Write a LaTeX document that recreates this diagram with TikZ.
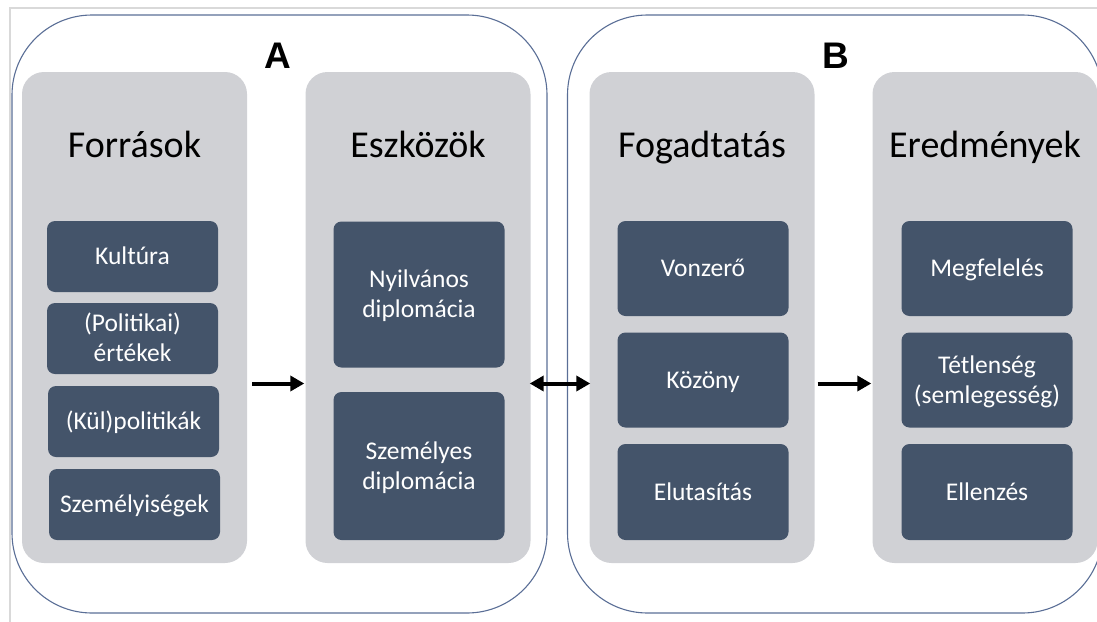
\documentclass[tikz,border=0pt]{standalone}
\usepackage{fontspec}
\setmainfont{Carlito}
\newfontfamily\headfont{Liberation Sans}
\usetikzlibrary{arrows.meta}
\definecolor{boxblue}{HTML}{44546A}
\definecolor{colgray}{HTML}{D0D1D5}
\definecolor{framegray}{HTML}{D9D9D9}
\definecolor{outline}{HTML}{5A6E96}
\newcommand\bxstrut{\rule[-7pt]{0pt}{30pt}}
\tikzset{
  column/.style={fill=colgray, rounded corners=22pt, draw=none, minimum width=225pt, minimum height=491pt, inner sep=0pt},
  dbox/.style={fill=boxblue, rounded corners=8pt, draw=none, minimum width=171pt, inner sep=0pt, text=white, font=\fontsize{25.5}{30}\selectfont, align=center},
  coltitle/.style={font=\fontsize{38}{42}\selectfont, text=black, inner sep=0pt, anchor=base},
  letter/.style={font=\headfont\bfseries\fontsize{37}{40}\selectfont, inner sep=0pt, anchor=base},
  group/.style={draw=outline, line width=1.1pt, rounded corners=80pt, minimum width=535pt, minimum height=598pt, inner sep=0pt},
  fat/.style={line width=4pt, -{Triangle[length=14pt,width=15pt]}},
  fatboth/.style={line width=4pt, {Triangle[length=14pt,width=15pt]}-{Triangle[length=14pt,width=15pt]}}
}
\begin{document}
\begin{tikzpicture}[x=1pt,y=-1pt]
\useasboundingbox (0,0) rectangle (1097,621);
\draw[framegray, line width=2pt] (1100,8) -- (10,8) -- (10,625);
% groups
\node[group] (gA) at (279.5,314) {};
\node[group] (gB) at (835,314) {};
% columns
\node[column] (c1) at (134.5,317.5) {};
\node[column] (c2) at (418,317.5) {};
\node[column] (c3) at (702,317.5) {};
\node[column] (c4) at (985,317.5) {};
% letters
\node[letter] (la) at (278,68) {A};
\node[letter] (lb) at (836,68) {B};
% titles
\node[coltitle] (t1) at (134.5,157) {Források};
\node[coltitle] (t2) at (418,157) {Eszközök};
\node[coltitle] (t3) at (702,157) {Fogadtatás};
\node[coltitle] (t4) at (985,157) {Eredmények};
% column 1
\node[dbox, minimum height=71pt] (k1) at (132.5,256.5) {\bxstrut Kultúra};
\node[dbox, minimum height=71pt] (k2) at (132.5,338.5) {\bxstrut (Politikai)\\\bxstrut értékek};
\node[dbox, minimum height=71pt] (k3) at (133.5,421.5) {\bxstrut (Kül)politikák};
\node[dbox, minimum height=71pt] (k4) at (134.5,504.5) {\bxstrut Személyiségek};
% column 2
\node[dbox, minimum height=146pt] (e1) at (419,294.5) {\bxstrut Nyilvános\\\bxstrut diplomácia};
\node[dbox, minimum height=148pt] (e2) at (419,466) {\bxstrut Személyes\\\bxstrut diplomácia};
% column 3
\node[dbox, minimum height=95pt] (f1) at (703,268.5) {\bxstrut Vonzerő};
\node[dbox, minimum height=95pt] (f2) at (703,380) {\bxstrut Közöny};
\node[dbox, minimum height=96pt] (f3) at (703,492) {\bxstrut Elutasítás};
% column 4
\node[dbox, minimum height=95pt] (r1) at (987,268.5) {\bxstrut Megfelelés};
\node[dbox, minimum height=95pt] (r2) at (987,380) {\bxstrut Tétlenség\\\bxstrut (semlegesség)};
\node[dbox, minimum height=96pt] (r3) at (987,492) {\bxstrut Ellenzés};
% arrows
\draw[fat] ([xshift=5pt,yshift=-66pt]c1.east) -- ([xshift=-1pt,yshift=-66pt]c2.west);
\draw[fatboth] ([xshift=-1pt,yshift=-66pt]c2.east) -- ([xshift=1pt,yshift=-66pt]c3.west);
\draw[fat] ([xshift=3pt,yshift=-66pt]c3.east) -- ([xshift=-1pt,yshift=-66pt]c4.west);
\end{tikzpicture}
\end{document}
